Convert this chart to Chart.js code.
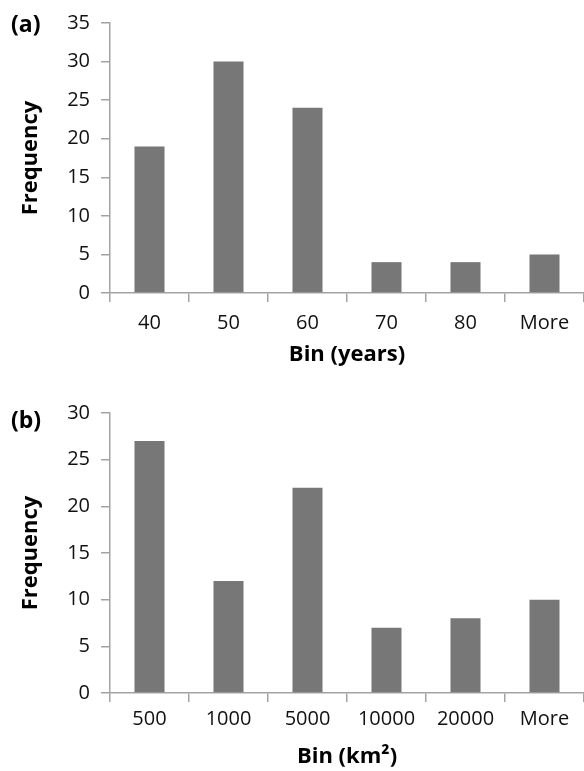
<!DOCTYPE html>
<html>
<head>
<meta charset="utf-8">
<script src="https://cdn.jsdelivr.net/npm/chart.js@4.4.1/dist/chart.umd.min.js"></script>
<style>
    body { margin: 0; background: #fff; width: 584px; height: 771px; position: relative; overflow: hidden; }
    .panel { position: absolute; left: 0; width: 584px; }
    .tag { position: absolute; left: 11px; font: bold 23px 'Open Sans', sans-serif; color: #000; }
</style>
</head>
<body>
<div class="panel" style="top:0;height:385px"><canvas id="graficoA"></canvas></div>
<div class="panel" style="top:385px;height:386px"><canvas id="graficoB"></canvas></div>
<div class="tag" style="top:7px">(a)</div>
<div class="tag" style="top:403px">(b)</div>
<script>
// (a) edades
const binsA = ['40', '50', '60', '70', '80', 'More'];
const freqA = [19, 30, 24, 4, 4, 5];
const maxA = 35;

// (b) areas
const binsB = ['500', '1000', '5000', '10000', '20000', 'More'];
const freqB = [27, 12, 22, 7, 8, 10];
const maxB = 30;

const AXIS = '#a3a3a3';
const FONT = "'Open Sans', sans-serif";

function createHist(id, labels, values, yMax, xTitle, opts) {
    const ctx = document.getElementById(id).getContext('2d');
    return new Chart(ctx, {
        type: 'bar',
        data: {
            labels: labels,
            datasets: [{
                data: values,
                backgroundColor: '#777777',
                borderWidth: 0,
                barPercentage: 0.38,
                categoryPercentage: 1
            }]
        },
        options: {
            responsive: true,
            maintainAspectRatio: false,
            animation: false,
            layout: { padding: { top: opts.top, left: 0, right: 0, bottom: 0 } },
            plugins: { legend: { display: false }, tooltip: { enabled: false } },
            scales: {
                x: {
                    grid: { drawOnChartArea: false, drawTicks: true, tickLength: 9, color: AXIS, lineWidth: 1.5 },
                    border: { display: true, color: AXIS, width: 1.5 },
                    ticks: { color: '#111', font: { family: FONT, size: 20 }, padding: opts.tickPad, autoSkip: false, maxRotation: 0 },
                    title: { display: true, text: xTitle, color: '#000', font: { family: FONT, size: 22, weight: 'bold' }, padding: { top: 0, bottom: opts.titlePad } },
                    afterFit: function(scale) { scale.height = opts.xHeight; }
                },
                y: {
                    min: 0,
                    max: yMax,
                    grid: { drawOnChartArea: false, drawTicks: true, tickLength: 9, color: AXIS, lineWidth: 1.5 },
                    border: { display: true, color: AXIS, width: 1.5 },
                    ticks: { stepSize: 5, color: '#111', font: { family: FONT, size: 20 }, padding: 11 },
                    title: { display: true, text: 'Frequency', color: '#000', font: { family: FONT, size: 22, weight: 'bold' }, padding: { top: 18, bottom: 0 } },
                    afterFit: function(scale) { scale.width = 110; }
                }
            }
        }
    });
}

document.addEventListener('DOMContentLoaded', function() {
    createHist('graficoA', binsA, freqA, maxA, 'Bin (years)', { top: 14, xHeight: 92, tickPad: 9, titlePad: 17 });
    createHist('graficoB', binsB, freqB, maxB, 'Bin (km\u00b2)', { top: 28, xHeight: 78, tickPad: 5, titlePad: 1 });
});
</script>
</body>
</html>
